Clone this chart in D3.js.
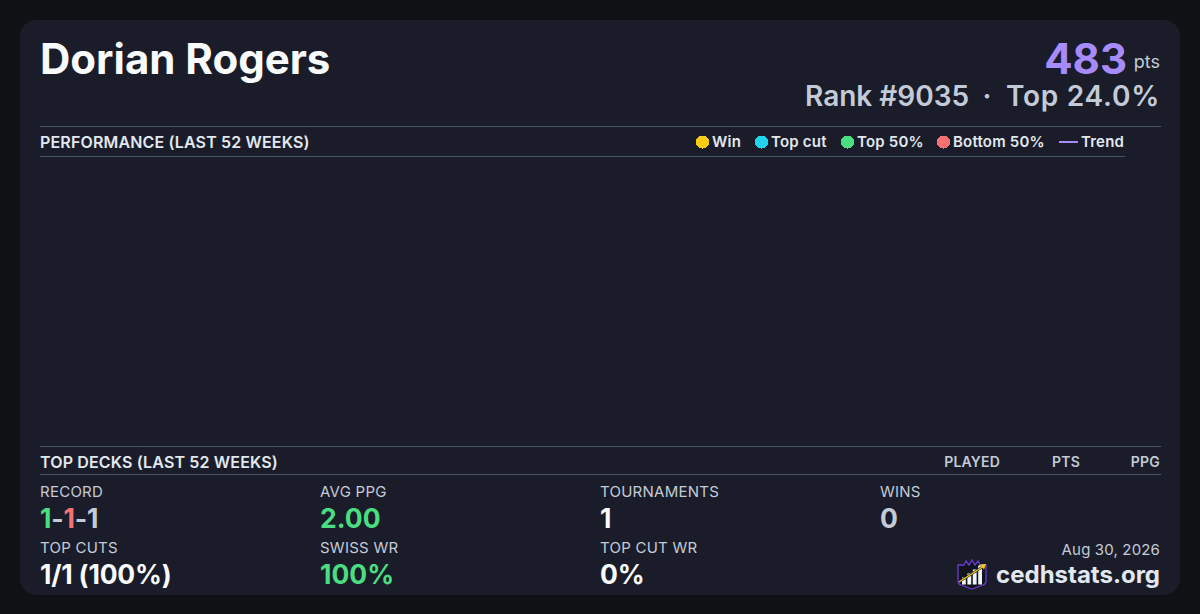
<!DOCTYPE html>
<html>
<head>
<meta charset="utf-8">
<script src="https://cdn.jsdelivr.net/npm/d3@7"></script>
<style>
  html, body { margin: 0; padding: 0; background: #0f1115; }
  svg { display: block; }
  text { font-family: Inter, "Noto Sans", sans-serif; }
</style>
</head>
<body>
<div id="chart"></div>
<script>
const playerName = 'Dorian Rogers';
const points = 483;
const rankLabel = 'Rank #9035';
const rankDot = '·';
const topLabel = 'Top 24.0%';
const performanceTitle = 'PERFORMANCE (LAST 52 WEEKS)';
const decksTitle = 'TOP DECKS (LAST 52 WEEKS)';
const legendLabels = ['Win', 'Top cut', 'Top 50%', 'Bottom 50%', 'Trend'];
const legendColors = ['#facc15', '#22d3ee', '#4ade80', '#f87171', '#a78bfa'];
const legendX = [696, 755, 841, 937, 1059];
const deckColumns = ['PLAYED', 'PTS', 'PPG'];
const statLabels = ['RECORD', 'AVG PPG', 'TOURNAMENTS', 'WINS', 'TOP CUTS', 'SWISS WR', 'TOP CUT WR'];
const statValues = [null, '2.00', '1', '0', '1/1 (100%)', '100%', '0%'];
const statColors = [null, '#4ade80', '#f8fafc', '#c4cbd8', '#f8fafc', '#4ade80', '#f8fafc'];
const recordParts = ['1', '-', '1', '-', '1'];
const recordColors = ['#4ade80', '#c4cbd8', '#f87171', '#c4cbd8', '#c4cbd8'];
const dateLabel = 'Aug 30, 2026';
const siteLabel = 'cedhstats.org';
const logoBars = [7, 11, 15, 19];

const width = 1200;
const height = 614;

const svg = d3
  .select('#chart')
  .append('svg')
  .attr('width', width)
  .attr('height', height);

svg.append('rect').attr('width', width).attr('height', height).attr('fill', '#0f1115');

svg
  .append('rect')
  .attr('x', 20)
  .attr('y', 20)
  .attr('width', 1160)
  .attr('height', 575)
  .attr('rx', 16)
  .attr('fill', '#1a1d29');

const label = (x, y, txt, size, weight, fill, anchor = 'start', spacing = 0) =>
  svg
    .append('text')
    .attr('x', x)
    .attr('y', y)
    .attr('text-anchor', anchor)
    .attr('font-size', size)
    .attr('font-weight', weight)
    .attr('fill', fill)
    .attr('letter-spacing', spacing)
    .text(txt);

const rule = (x1, x2, y) =>
  svg
    .append('line')
    .attr('x1', x1)
    .attr('x2', x2)
    .attr('y1', y + 0.5)
    .attr('y2', y + 0.5)
    .attr('stroke', '#475569')
    .attr('stroke-width', 1);

// header
label(40, 74, playerName, 42, 700, '#f8fafc');
label(1127, 74, points, 42, 700, '#a78bfa', 'end');
label(1160, 68, 'pts', 18, 400, '#c4cbd8', 'end');
label(805, 106, rankLabel, 28, 600, '#c4cbd8');
label(987, 106, rankDot, 28, 600, '#c4cbd8', 'middle');
label(1160, 106, topLabel, 28, 600, '#c4cbd8', 'end', 0.75);

// performance strip, no games to plot in the window
rule(40, 1161, 126);
rule(40, 1125, 156);
label(40, 148, performanceTitle, 16, 600, '#e2e8f0', 'start', 0.15);

const legend = svg
  .selectAll('.legend')
  .data(legendLabels)
  .enter()
  .append('g')
  .attr('class', 'legend')
  .attr('transform', (d, i) => `translate(${legendX[i]},142)`);

legend
  .filter((d) => d !== 'Trend')
  .append('circle')
  .attr('cx', 6.5)
  .attr('r', 6.5)
  .attr('shape-rendering', 'crispEdges')
  .attr('fill', (d) => legendColors[legendLabels.indexOf(d)]);

legend
  .filter((d) => d === 'Trend')
  .append('line')
  .attr('x1', 0)
  .attr('x2', 19)
  .attr('stroke', legendColors[4])
  .attr('stroke-width', 2);

legend
  .append('text')
  .attr('x', (d) => (d === 'Trend' ? 22 : 16))
  .attr('y', 5)
  .attr('font-size', 15)
  .attr('font-weight', 600)
  .attr('letter-spacing', 0.2)
  .attr('fill', '#e2e8f0')
  .text((d) => d);

// decks table header
rule(40, 1161, 446);
rule(40, 1161, 474);
label(40, 468, decksTitle, 16, 600, '#e2e8f0', 'start', 0.15);

const columnScale = d3.scalePoint().domain(deckColumns).range([1000, 1160]);
svg
  .selectAll('.deck-col')
  .data(deckColumns)
  .enter()
  .append('text')
  .attr('class', 'deck-col')
  .attr('x', (d) => columnScale(d))
  .attr('y', 467)
  .attr('text-anchor', 'end')
  .attr('font-size', 14)
  .attr('font-weight', 600)
  .attr('letter-spacing', 0.2)
  .attr('fill', '#c4cbd8')
  .text((d) => d);

// stats
const statX = [40, 320, 600, 880];
statLabels.forEach((d, i) => {
  const x = statX[i % 4];
  const row = Math.floor(i / 4);
  label(x, 497 + row * 56, d, 15, 400, '#c4cbd8', 'start', 0.25);
  if (statValues[i] !== null) {
    label(x, 528 + row * 56, statValues[i], 26.5, 700, statColors[i], 'start', i === 4 ? -0.2 : 0);
  }
});

const record = svg
  .append('text')
  .attr('x', 40)
  .attr('y', 528)
  .attr('font-size', 26.5)
  .attr('font-weight', 700)
  .attr('letter-spacing', -0.2);
record
  .selectAll('tspan')
  .data(recordParts)
  .enter()
  .append('tspan')
  .attr('fill', (d, i) => recordColors[i])
  .text((d) => d);

// footer
label(1160, 555, dateLabel, 15, 400, '#c4cbd8', 'end', 0.15);
label(1160, 583, siteLabel, 24, 700, '#e2e8f0', 'end');

const logo = svg.append('g').attr('transform', 'translate(958,560)');
logo
  .append('path')
  .attr('d', 'M0 5 L6 5 L8 1 L11 5 L14 0 L17 5 L20 1 L22 5 L28 5 L28 21 Q28 24 25 25 L14 29 L3 25 Q0 24 0 21 Z')
  .attr('fill', '#12141c')
  .attr('stroke', '#6d3bd1')
  .attr('stroke-width', 1.3);
logo
  .selectAll('.logo-bar')
  .data(logoBars)
  .enter()
  .append('rect')
  .attr('class', 'logo-bar')
  .attr('x', (d, i) => 4 + i * 5.4)
  .attr('y', (d) => 24.5 - d)
  .attr('width', 3.8)
  .attr('height', (d) => d)
  .attr('fill', '#f1f5f9');
logo
  .append('line')
  .attr('x1', 1)
  .attr('y1', 22)
  .attr('x2', 26)
  .attr('y2', 6)
  .attr('stroke', '#12141c')
  .attr('stroke-width', 2.2);
logo
  .append('line')
  .attr('x1', 1)
  .attr('y1', 22)
  .attr('x2', 26)
  .attr('y2', 6)
  .attr('stroke', '#facc15')
  .attr('stroke-width', 1.2);
logo
  .append('path')
  .attr('d', 'M22 4.5 L28 4 L26 9.5 Z')
  .attr('fill', '#facc15');
</script>
</body>
</html>
